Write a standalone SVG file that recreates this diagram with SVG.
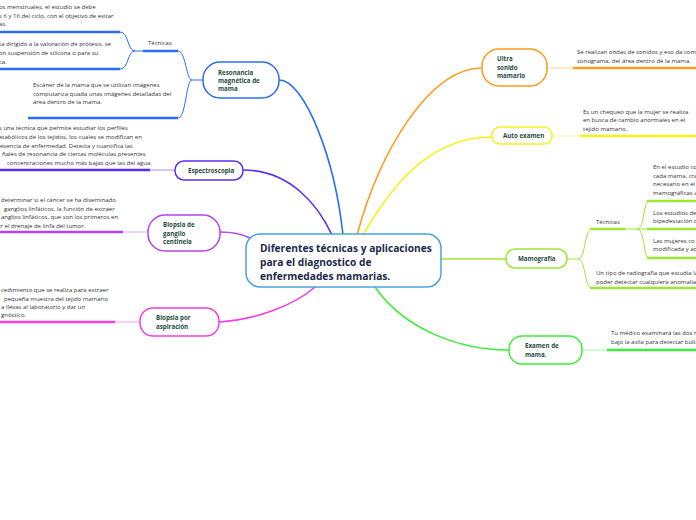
<svg xmlns="http://www.w3.org/2000/svg" width="696" height="520" viewBox="0 0 696 520">
<style>
.bg{fill:#ffffff}
.node{fill:#ffffff;stroke-width:1.5}
.lbl{font-family:"Open Sans","Liberation Sans",sans-serif;font-size:6.2px;font-weight:bold;fill:#1e4d3b}
.txt{font-family:"Open Sans","Liberation Sans",sans-serif;font-size:6px;fill:#333333}
.title{font-family:"Open Sans","Liberation Sans",sans-serif;font-size:10.2px;font-weight:bold;fill:#1a2b4c}
.c{fill:none;stroke-width:1.6;stroke-linecap:round}
.u{fill:none;stroke-width:2.4}
.t{fill:none;stroke-width:1}
</style>
<rect class="bg" x="0" y="0" width="696" height="520"/>
<g id="connectors">
  <path class="c" stroke="#2b6ef6" d="M279,80 C305,80 335,160 343,235"/>
  <path class="c" stroke="#5b2ff2" d="M243,170 C290,170 318,205 332,235"/>
  <path class="c" stroke="#b047ef" d="M220,232 C232,232 242,234 250,238"/>
  <path class="c" stroke="#f53de0" d="M219,322 C255,320 295,305 315,287"/>
  <path class="c" stroke="#ff9a1f" d="M357,235 C380,150 430,68 482,68"/>
  <path class="c" stroke="#f4f21a" d="M363,235 C400,170 440,137 492,137"/>
  <path class="c" stroke="#9de634" d="M441,259 L506,259"/>
  <path class="c" stroke="#3ded3d" d="M375,287 C405,330 460,350 509,350"/>
  <path class="t" stroke="#2b6ef6" d="M203,80 L192,80 C186,80 186,51 178,51"/>
  <path class="t" stroke="#2b6ef6" d="M192,80 C186,80 186,118 178,118"/>
  <path class="u" stroke="#2b6ef6" d="M143,51 L178,51"/>
  <path class="u" stroke="#2b6ef6" d="M28,118 L178,118"/>
  <path class="t" stroke="#2b6ef6" d="M143,51 L135,51 C127,51 129,32 120,32"/>
  <path class="t" stroke="#2b6ef6" d="M135,51 C127,51 129,69 120,69"/>
  <path class="u" stroke="#2b6ef6" d="M0,32 L120,32"/>
  <path class="u" stroke="#2b6ef6" d="M0,69 L120,69"/>
  <path class="t" stroke="#a892f8" d="M150,170 L175,170"/>
  <path class="u" stroke="#5b2ff2" d="M0,170 L150,170"/>
  <path class="t" stroke="#d9a6f7" d="M123,232 L148,232"/>
  <path class="u" stroke="#b047ef" d="M0,232 L123,232"/>
  <path class="t" stroke="#f8a0ee" d="M115,322 L140,322"/>
  <path class="u" stroke="#f53de0" d="M0,322 L115,322"/>
  <path class="t" stroke="#ffd199" d="M547,68 L573,68"/>
  <path class="u" stroke="#ff9a1f" d="M573,68 L696,68"/>
  <path class="t" stroke="#f8f79a" d="M552,136 L580,136"/>
  <path class="u" stroke="#f4f21a" d="M580,136 L696,136"/>
  <path class="t" stroke="#a6f5a6" d="M582,350 L607,350"/>
  <path class="u" stroke="#3ded3d" d="M607,350 L696,350"/>
  <path class="t" stroke="#9de634" d="M567,259 L578,259 C586,259 584,229 592,229"/>
  <path class="t" stroke="#9de634" d="M578,259 C586,259 584,288 592,288"/>
  <path class="u" stroke="#9de634" d="M590,229 L625,229"/>
  <path class="u" stroke="#9de634" d="M590,288 L696,288"/>
  <path class="t" stroke="#9de634" d="M625,229 L637,229 C645,229 643,201 649,201"/>
  <path class="t" stroke="#9de634" d="M637,229 L649,229"/>
  <path class="t" stroke="#9de634" d="M637,229 C645,229 643,258 649,258"/>
  <path class="u" stroke="#9de634" d="M647,201 L696,201"/>
  <path class="u" stroke="#9de634" d="M647,229 L696,229"/>
  <path class="u" stroke="#9de634" d="M647,258 L696,258"/>
</g>
<g id="central">
  <rect class="node" stroke="#4da3de" x="246" y="234" width="195" height="53" rx="14"/>
  <text class="title" x="260" y="252">Diferentes técnicas y aplicaciones</text>
  <text class="title" x="260" y="266">para el diagnostico de</text>
  <text class="title" x="260" y="280">enfermedades mamarias.</text>
</g>
<g id="resonancia">
  <rect class="node" stroke="#2b6ef6" x="203" y="62" width="76" height="36" rx="17"/>
  <text class="lbl" x="218" y="75">Resonancia</text>
  <text class="lbl" x="218" y="83">magnética de</text>
  <text class="lbl" x="218" y="91">mama</text>
</g>
<g id="resonancia-tecnicas">
  <text class="txt" x="148" y="45">Técnicas</text>
</g>
<g id="resonancia-t1">
  <text class="txt" x="-1" y="9">os menstruales, el estudio se debe</text>
  <text class="txt" x="-1" y="18">s 6 y 16 del ciclo, con el objetivo de evitar</text>
  <text class="txt" x="-1" y="26">as.</text>
</g>
<g id="resonancia-t2">
  <text class="txt" x="-1" y="46">ta dirigido a la valoración de prótesis, se</text>
  <text class="txt" x="-1" y="55">on suspensión de silicona o para su</text>
  <text class="txt" x="-1" y="64">ca.</text>
</g>
<g id="resonancia-escaner">
  <text class="txt" x="33" y="87">Escáner de la mama que se  utilizan imágenes</text>
  <text class="txt" x="33" y="96">computariza quada unas imágenes detalladas del</text>
  <text class="txt" x="33" y="104">área dentro de la mama.</text>
</g>
<g id="espectroscopia">
  <rect class="node" stroke="#5b2ff2" x="175" y="161" width="68" height="19" rx="9"/>
  <text class="lbl" x="188" y="173">Espectroscopia</text>
</g>
<g id="espectroscopia-text">
  <text class="txt" x="-1" y="130">s una técnica que permite estudiar los perfiles</text>
  <text class="txt" x="-1" y="139">etabólicos de los tejidos, los cuales se modifican en</text>
  <text class="txt" x="0" y="147.5">esencia de enfermedad. Detecta y cuantifica las</text>
  <text class="txt" x="2" y="156">ñales de resonancia de ciertas moléculas presentes</text>
  <text class="txt" x="7" y="164.5">concentraciones mucho más bajas que las del agua.</text>
</g>
<g id="biopsia-ganglio">
  <rect class="node" stroke="#b047ef" x="148" y="215" width="72" height="36" rx="17"/>
  <text class="lbl" x="163" y="227">Biopsia de</text>
  <text class="lbl" x="163" y="235.5">ganglio</text>
  <text class="lbl" x="163" y="244">centinela</text>
</g>
<g id="biopsia-ganglio-text">
  <text class="txt" x="1" y="202">determinar si el cáncer se ha diseminado</text>
  <text class="txt" x="4" y="211">ganglios linfáticos, la función de extraer</text>
  <text class="txt" x="1" y="219">anglios linfáticos, que son los primeros en</text>
  <text class="txt" x="-1" y="228">ir el drenaje de linfa del tumor.</text>
</g>
<g id="biopsia-aspiracion">
  <rect class="node" stroke="#f53de0" x="140" y="308" width="79" height="28" rx="13"/>
  <text class="lbl" x="156" y="320">Biopsia por</text>
  <text class="lbl" x="156" y="329">aspiración</text>
</g>
<g id="biopsia-aspiracion-text">
  <text class="txt" x="1" y="292">cedimiento que se realiza para extraer</text>
  <text class="txt" x="4" y="301">pequeña muestra del tejido mamario</text>
  <text class="txt" x="1" y="309">a llevas al laboratorio y dar un</text>
  <text class="txt" x="1" y="317">gnóstico.</text>
</g>
<g id="ultra">
  <rect class="node" stroke="#ff9a1f" x="482" y="49" width="65" height="37" rx="17"/>
  <text class="lbl" x="497" y="61">Ultra</text>
  <text class="lbl" x="497" y="70">sonido</text>
  <text class="lbl" x="497" y="78">mamario</text>
</g>
<g id="ultra-text">
  <text class="txt" x="577" y="54">Se realizan ondas de sonidos y eso da com</text>
  <text class="txt" x="577" y="63">sonograma, del área dentro de la mama.</text>
</g>
<g id="auto">
  <rect class="node" stroke="#f4f21a" x="492" y="127" width="60" height="17" rx="8"/>
  <text class="lbl" x="503" y="138">Auto examen</text>
</g>
<g id="auto-text">
  <text class="txt" x="583" y="114">Es un chequeo que la mujer se realiza</text>
  <text class="txt" x="583" y="122">en busca de cambio anormales en el</text>
  <text class="txt" x="583" y="131">tejido mamario.</text>
</g>
<g id="mamografia">
  <rect class="node" stroke="#9de634" x="506" y="249" width="61" height="19" rx="9"/>
  <text class="lbl" x="518" y="261">Mamografía</text>
</g>
<g id="mamografia-tecnicas">
  <text class="txt" x="596" y="224">Técnicas</text>
</g>
<g id="mamografia-t1">
  <text class="txt" x="653" y="169">En el estudio co</text>
  <text class="txt" x="653" y="178">cada mama, cra</text>
  <text class="txt" x="653" y="186">necesario en el</text>
  <text class="txt" x="653" y="195">mamográficas a</text>
</g>
<g id="mamografia-t2">
  <text class="txt" x="653" y="215">Los estudios de</text>
  <text class="txt" x="653" y="223">bipedestación o</text>
</g>
<g id="mamografia-t3">
  <text class="txt" x="653" y="243">Las mujeres co</text>
  <text class="txt" x="653" y="251">modificada y ad</text>
</g>
<g id="mamografia-text">
  <text class="txt" x="596" y="275">Un tipo de radiografía que estudia la</text>
  <text class="txt" x="596" y="284">poder detectar cualquiera anomalía</text>
</g>
<g id="examen">
  <rect class="node" stroke="#3ded3d" x="509" y="336" width="73" height="28" rx="13"/>
  <text class="lbl" x="525" y="348">Examen de</text>
  <text class="lbl" x="525" y="357">mama.</text>
</g>
<g id="examen-text">
  <text class="txt" x="611" y="335">Tu médico examinará las dos r</text>
  <text class="txt" x="611" y="344">bajo la axila para detectar bult</text>
</g>
</svg>
